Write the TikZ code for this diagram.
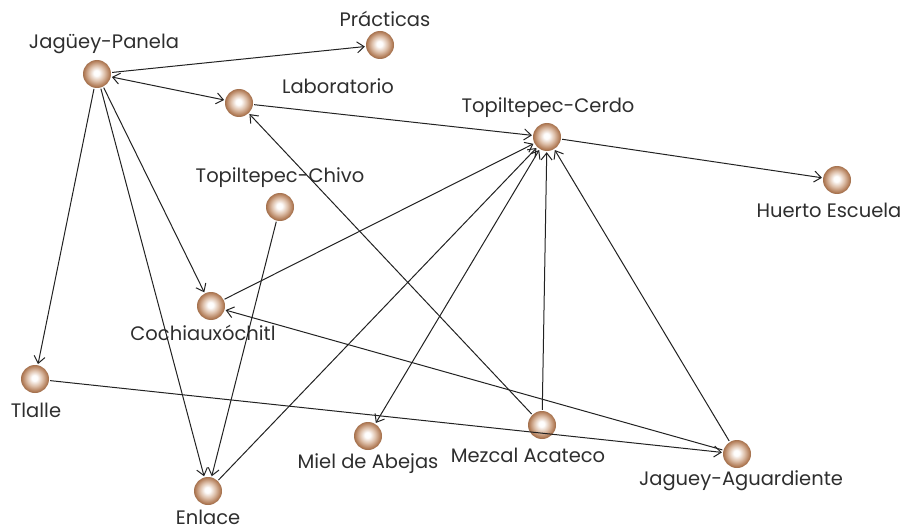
\documentclass[tikz,border=0pt]{standalone}
\usepackage{fontspec}
\setmainfont{Poppins}
\usetikzlibrary{arrows.meta}
\definecolor{edgeink}{HTML}{222222}
\definecolor{labelink}{HTML}{2E2E2E}
\definecolor{beadrim}{HTML}{B07A55}
\definecolor{beadmid}{HTML}{DDBFA9}
\pgfdeclareradialshading{bead}{\pgfpoint{-1bp}{2bp}}{%
  color(0bp)=(white); color(5bp)=(white!95!beadmid); color(14bp)=(beadmid);
  color(23bp)=(beadrim); color(25bp)=(beadrim!90!black); color(50bp)=(beadrim!90!black)}
\tikzset{
  bead/.style={circle, minimum size=28pt, inner sep=0pt, shading=bead},
  tag/.style={text=labelink, font=\fontsize{19.5pt}{22pt}\selectfont, inner sep=0pt},
  link/.style={draw=edgeink, line width=1pt, -{Straight Barb[length=7pt,width=11pt]}, shorten >=1pt, shorten <=1pt},
  duplex/.style={link, {Straight Barb[length=7pt,width=11pt]}-{Straight Barb[length=7pt,width=11pt]}}
}
\begin{document}
\begin{tikzpicture}[x=1pt,y=-1pt]
\useasboundingbox (0,0) rectangle (908,532);
% vertices
\node[bead] (jp)  at (97,74)   {};
\node[bead] (pr)  at (380,45)  {};
\node[bead] (lab) at (239,103) {};
\node[bead] (tc)  at (547,137) {};
\node[bead] (he)  at (837,180) {};
\node[bead] (tch) at (280,207) {};
\node[bead] (co)  at (211,306) {};
\node[bead] (tl)  at (35,379)  {};
\node[bead] (mi)  at (368,436) {};
\node[bead] (me)  at (542,425) {};
\node[bead] (ja)  at (737,454) {};
\node[bead] (en)  at (208,491) {};
% names
\node[tag] (ljp)  at (104,44)  {Jagüey-Panela};
\node[tag] (lpr)  at (385,19)  {Prácticas};
\node[tag] (llab) at (338,86)  {Laboratorio};
\node[tag] (ltc)  at (548,108) {Topiltepec-Cerdo};
\node[tag] (lhe)  at (829,210) {Huerto Escuela};
\node[tag] (ltch) at (280,178) {Topiltepec-Chivo};
\node[tag] (lco)  at (203,333) {Cochiauxóchitl};
\node[tag] (ltl)  at (36,410)  {Tlalle};
\node[tag] (lmi)  at (368,464) {Miel de Abejas};
\node[tag] (lme)  at (528,455) {Mezcal Acateco};
\node[tag] (lja)  at (741,481) {Jaguey-Aguardiente};
\node[tag] (len)  at (208,517) {Enlace};
% relations
\draw[link]   (jp) -- (pr);
\draw[duplex] (jp) -- (lab);
\draw[link]   (jp) -- (tl);
\draw[link]   (jp) -- (co);
\draw[link]   (jp) -- (en);
\draw[link]   (lab) -- (tc);
\draw[link]   (me) -- (lab);
\draw[link]   (tc) -- (he);
\draw[link]   (co) -- (tc);
\draw[link]   (en) -- (tc);
\draw[duplex] (mi) -- (tc);
\draw[link]   (me) -- (tc);
\draw[link]   (ja) -- (tc);
\draw[link]   (ja) -- (co);
\draw[link]   (tl) -- (ja);
\draw[link]   (tch) -- (en);
\end{tikzpicture}
\end{document}
